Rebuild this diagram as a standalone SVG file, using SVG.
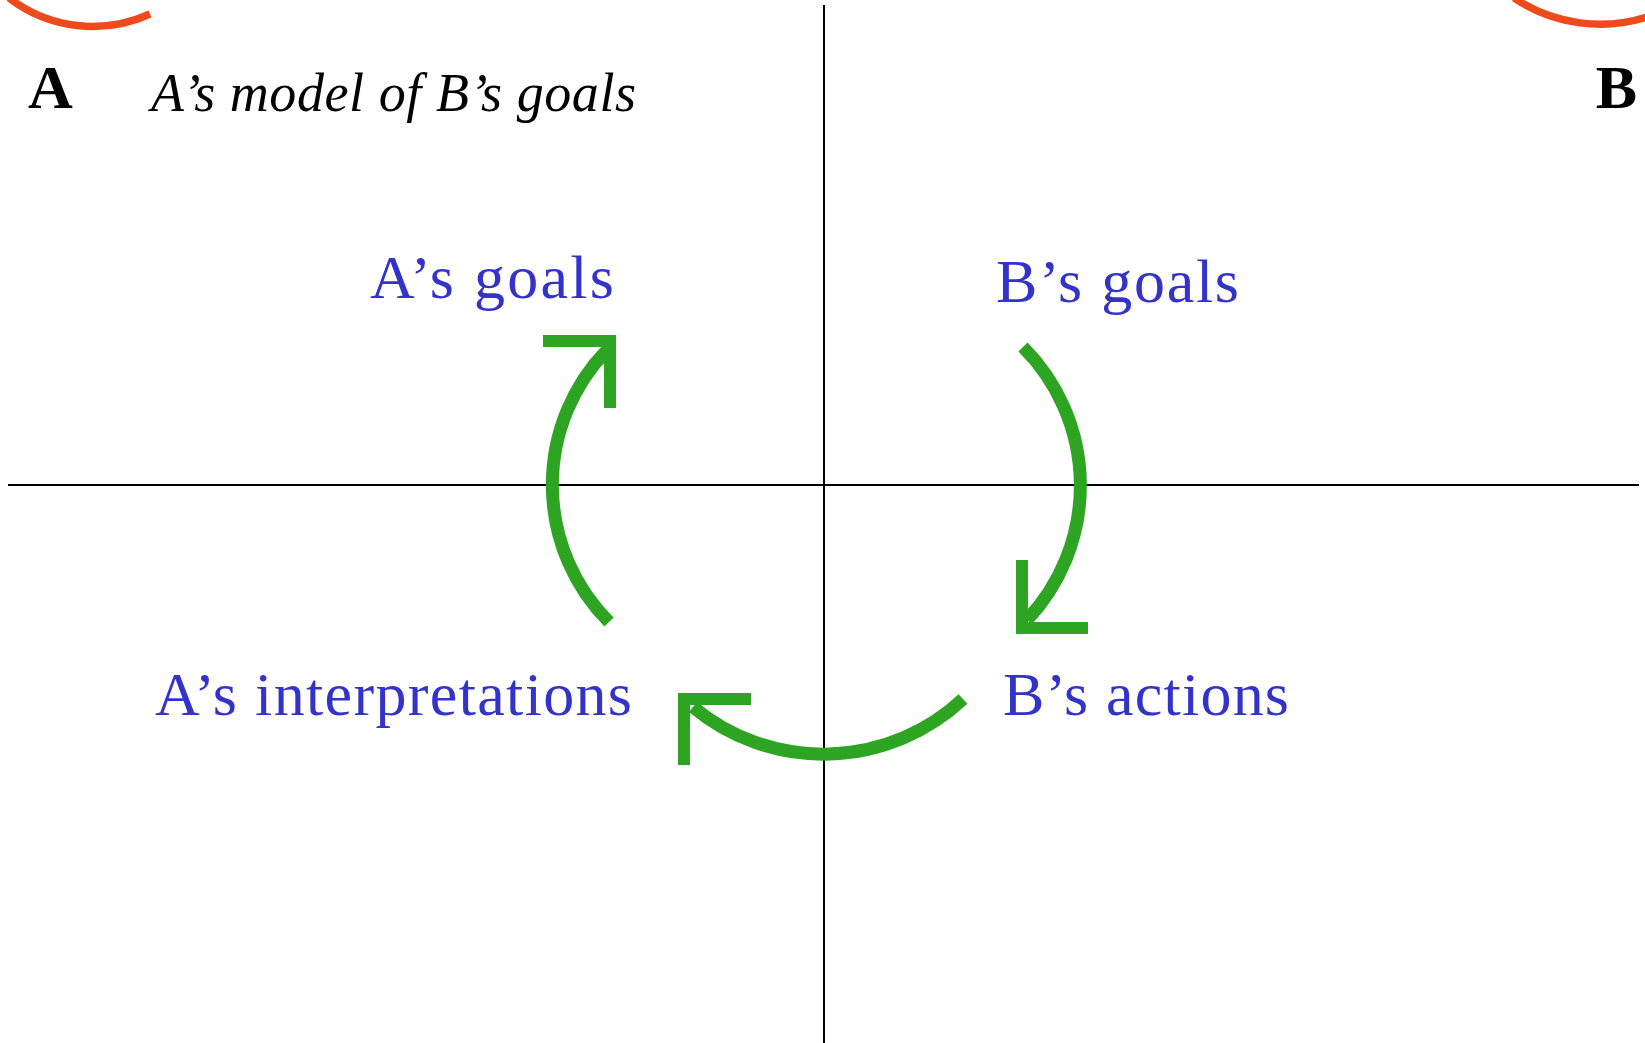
<svg xmlns="http://www.w3.org/2000/svg" width="1645" height="1043" viewBox="0 0 1645 1043">
  <style>
    .axis { stroke: #000; stroke-width: 2; fill: none; }
    .red { stroke: #ee4a1c; stroke-width: 7.5; fill: none; }
    .arc { stroke: #2da523; stroke-width: 13; fill: none; stroke-linecap: butt; }
    .head { stroke: #2da523; stroke-width: 12; fill: none; stroke-linejoin: miter; stroke-linecap: butt; }
    .lbl { font-family: "Liberation Serif", "Times New Roman", serif; fill: #3333cc; font-size: 62px; }
    .corner { font-family: "Liberation Serif", "Times New Roman", serif; font-weight: bold; font-size: 62px; fill: #000; }
    .title { font-family: "Liberation Serif", "Times New Roman", serif; font-style: italic; font-size: 54px; fill: #000; }
  </style>
  <rect width="1645" height="1043" fill="#fff"/>

  <g id="decor">
    <path class="red" d="M9,-2 A138,138 0 0 0 150,14"/>
    <path class="red" d="M1514,-2 A155,155 0 0 0 1650,16"/>
  </g>

  <g id="axes">
    <line class="axis" x1="8" y1="485" x2="1639" y2="485"/>
    <line class="axis" x1="824" y1="5" x2="824" y2="1043"/>
  </g>

  <g id="corner-A"><text class="corner" x="28" y="108">A</text></g>
  <g id="corner-B"><text class="corner" x="1637" y="108" text-anchor="end">B</text></g>
  <g id="title"><text class="title" x="151" y="111" textLength="485" lengthAdjust="spacing">A’s model of B’s goals</text></g>

  <g id="node-a-goals"><text class="lbl" x="370" y="298" textLength="244" lengthAdjust="spacing">A’s goals</text></g>
  <g id="node-b-goals"><text class="lbl" x="996" y="302" textLength="243" lengthAdjust="spacing">B’s goals</text></g>
  <g id="node-a-interp"><text class="lbl" x="155" y="715" textLength="477" lengthAdjust="spacing">A’s interpretations</text></g>
  <g id="node-b-actions"><text class="lbl" x="1003" y="715" textLength="286" lengthAdjust="spacing">B’s actions</text></g>

  <g id="connectors">
    <path class="arc" d="M609,622 A194,194 0 0 1 607,350"/>
    <path class="head" d="M543,341 H610 V408"/>
    <path class="arc" d="M1023,347 A196,196 0 0 1 1027,620"/>
    <path class="head" d="M1022,560 V628 H1088"/>
    <path class="arc" d="M963,699 A204,204 0 0 1 693,707"/>
    <path class="head" d="M751,699 H684 V765"/>
  </g>
</svg>
